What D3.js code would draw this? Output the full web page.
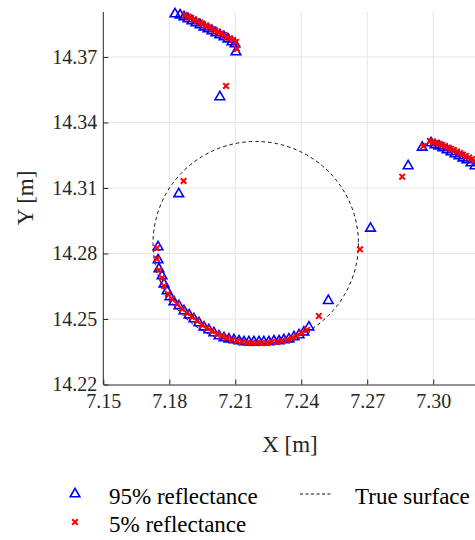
<!DOCTYPE html>
<html>
<head>
<meta charset="utf-8">
<script src="https://cdn.jsdelivr.net/npm/d3@7"></script>
<style>
  body { margin: 0; background: #fff; }
</style>
</head>
<body>
<div id="chart"></div>
<script>
// tick values
const xTicks = [7.15, 7.18, 7.21, 7.24, 7.27, 7.30];
const yTicks = [14.22, 14.25, 14.28, 14.31, 14.34, 14.37];

// 95% reflectance returns [x, y]
const refl95 = [
  [7.1826, 14.3897], [7.1849, 14.3892], [7.1867, 14.3883], [7.1885, 14.3874], [7.1903, 14.3865],
  [7.1921, 14.3856], [7.1940, 14.3847], [7.1958, 14.3837], [7.1976, 14.3828], [7.1994, 14.3819],
  [7.2012, 14.3810], [7.2030, 14.3801], [7.2049, 14.3792], [7.2067, 14.3782], [7.2085, 14.3769],
  [7.2099, 14.3760], [7.2103, 14.3723],
  [7.2030, 14.3517], [7.1843, 14.3073], [7.2715, 14.2915], [7.2523, 14.2584], [7.2886, 14.3201],
  [7.2950, 14.3286],
  [7.1749, 14.2830], [7.1749, 14.2770], [7.1753, 14.2729], [7.1767, 14.2697], [7.1776, 14.2660],
  [7.1790, 14.2628], [7.1803, 14.2601], [7.1821, 14.2578], [7.1844, 14.2560], [7.1867, 14.2537],
  [7.1890, 14.2518], [7.1912, 14.2500], [7.1935, 14.2482], [7.1958, 14.2463], [7.1980, 14.2450],
  [7.2003, 14.2436], [7.2026, 14.2422], [7.2049, 14.2413], [7.2071, 14.2408], [7.2094, 14.2404],
  [7.2117, 14.2399], [7.2140, 14.2395], [7.2162, 14.2395], [7.2185, 14.2395], [7.2208, 14.2395],
  [7.2230, 14.2395], [7.2253, 14.2395], [7.2276, 14.2399], [7.2299, 14.2399], [7.2321, 14.2404],
  [7.2344, 14.2408], [7.2367, 14.2418], [7.2390, 14.2427], [7.2412, 14.2440], [7.2435, 14.2463],
  [7.2990, 14.3306], [7.3008, 14.3297], [7.3026, 14.3292], [7.3044, 14.3283], [7.3063, 14.3274],
  [7.3081, 14.3265], [7.3099, 14.3256], [7.3117, 14.3247], [7.3135, 14.3237], [7.3153, 14.3228],
  [7.3172, 14.3215], [7.3190, 14.3201]
];

// 5% reflectance returns [x, y]
const refl5 = [
  [7.1871, 14.3892], [7.1885, 14.3885], [7.1899, 14.3879], [7.1912, 14.3872], [7.1926, 14.3865],
  [7.1940, 14.3858], [7.1953, 14.3851], [7.1967, 14.3844], [7.1981, 14.3837], [7.1994, 14.3828],
  [7.2008, 14.3821], [7.2021, 14.3815], [7.2035, 14.3808], [7.2049, 14.3801], [7.2062, 14.3792],
  [7.2076, 14.3785], [7.2090, 14.3778], [7.2103, 14.3769], [7.2108, 14.3737],
  [7.2058, 14.3567], [7.1865, 14.3132], [7.2667, 14.2819], [7.2480, 14.2514], [7.2859, 14.3152],
  [7.2955, 14.3292],
  [7.1744, 14.2825], [7.1744, 14.2775], [7.1753, 14.2724], [7.1767, 14.2688], [7.1776, 14.2651],
  [7.1794, 14.2615], [7.1812, 14.2592], [7.1835, 14.2569], [7.1858, 14.2546], [7.1880, 14.2527],
  [7.1903, 14.2509], [7.1926, 14.2491], [7.1949, 14.2473], [7.1971, 14.2459], [7.1994, 14.2445],
  [7.2017, 14.2431], [7.2040, 14.2422], [7.2062, 14.2413], [7.2085, 14.2404], [7.2108, 14.2399],
  [7.2130, 14.2395], [7.2153, 14.2390], [7.2176, 14.2390], [7.2199, 14.2390], [7.2221, 14.2390],
  [7.2244, 14.2390], [7.2267, 14.2395], [7.2290, 14.2395], [7.2312, 14.2399], [7.2335, 14.2404],
  [7.2358, 14.2413], [7.2380, 14.2422], [7.2403, 14.2436], [7.2426, 14.2450],
  [7.2985, 14.3315], [7.2999, 14.3311], [7.3012, 14.3306], [7.3026, 14.3302], [7.3040, 14.3297],
  [7.3053, 14.3292], [7.3067, 14.3285], [7.3081, 14.3279], [7.3094, 14.3274], [7.3108, 14.3267],
  [7.3122, 14.3260], [7.3135, 14.3253], [7.3149, 14.3247], [7.3163, 14.3240], [7.3176, 14.3233],
  [7.3190, 14.3226]
];

// true surface: circle centre and radius [m]
const surfaceCenter = [7.2193, 14.2846];
const surfaceRadius = [0.0467];

const width = 475, height = 540;
const plotLeft = 103.3, plotRight = 475, plotTop = 12, plotBottom = 384.5;
const serif = "'Liberation Serif', 'Times New Roman', Times, serif";

const x = d3.scaleLinear().domain([7.15, 7.319]).range([plotLeft, plotRight]);
const y = d3.scaleLinear().domain([14.22, 14.3906]).range([plotBottom, plotTop]);

const svg = d3.select("#chart").append("svg")
  .attr("width", width)
  .attr("height", height)
  .style("font-family", serif);

svg.append("defs").append("clipPath").attr("id", "clip")
  .append("rect")
  .attr("x", plotLeft).attr("y", plotTop - 6)
  .attr("width", plotRight - plotLeft).attr("height", plotBottom - plotTop + 6);

// grid
const grid = svg.append("g");
grid.selectAll(".gx").data(xTicks.slice(1)).enter().append("line")
  .attr("x1", d => x(d)).attr("x2", d => x(d))
  .attr("y1", plotTop).attr("y2", plotBottom)
  .attr("stroke", "#e6e6e6").attr("stroke-width", 1);
grid.selectAll(".gy").data(yTicks.slice(1)).enter().append("line")
  .attr("x1", plotLeft).attr("x2", plotRight)
  .attr("y1", d => y(d)).attr("y2", d => y(d))
  .attr("stroke", "#e6e6e6").attr("stroke-width", 1);

const plot = svg.append("g").attr("clip-path", "url(#clip)");

// true surface
plot.append("ellipse")
  .attr("cx", x(surfaceCenter[0]))
  .attr("cy", y(surfaceCenter[1]))
  .attr("rx", x(surfaceCenter[0] + surfaceRadius[0]) - x(surfaceCenter[0]))
  .attr("ry", y(surfaceCenter[1]) - y(surfaceCenter[1] + surfaceRadius[0]))
  .attr("fill", "none")
  .attr("stroke", "#111")
  .attr("stroke-width", 1)
  .attr("stroke-dasharray", "3.5,3");

const tri = d3.symbol().type(d3.symbolTriangle).size(40);
const cross = "M-2.8,-2.8L2.8,2.8M-2.8,2.8L2.8,-2.8";

plot.selectAll(".p95").data(refl95).enter().append("path")
  .attr("d", tri)
  .attr("transform", d => "translate(" + x(d[0]) + "," + y(d[1]) + ")")
  .attr("fill", "none")
  .attr("stroke", "#0000ff")
  .attr("stroke-width", 1.6);

plot.selectAll(".p5").data(refl5).enter().append("path")
  .attr("d", cross)
  .attr("transform", d => "translate(" + x(d[0]) + "," + y(d[1]) + ")")
  .attr("fill", "none")
  .attr("stroke", "#ff0000")
  .attr("stroke-width", 2);

// axes, ticks pointing inward like matlab
const xAxis = svg.append("g")
  .attr("transform", "translate(0," + plotBottom + ")")
  .call(d3.axisBottom(x).tickValues(xTicks).tickSizeInner(-5).tickSizeOuter(0).tickPadding(9)
    .tickFormat(d3.format(".2f")));
const yAxis = svg.append("g")
  .attr("transform", "translate(" + plotLeft + ",0)")
  .call(d3.axisLeft(y).tickValues(yTicks).tickSizeInner(-5).tickSizeOuter(0).tickPadding(6)
    .tickFormat(d3.format(".2f")));

[xAxis, yAxis].forEach(a => {
  a.attr("font-family", null).attr("font-size", null);
  a.select(".domain").attr("stroke", "#262626");
  a.selectAll(".tick line").attr("stroke", "#262626");
  a.selectAll(".tick text")
    .style("font-family", serif)
    .style("font-size", "20px")
    .attr("fill", "#262626");
});
xAxis.selectAll(".tick text").attr("dy", "0.71em");
yAxis.select(".domain").attr("d", "M0," + plotTop + "V" + plotBottom);

svg.append("text")
  .attr("x", 290).attr("y", 452)
  .attr("text-anchor", "middle")
  .style("font-size", "23px")
  .attr("fill", "#262626")
  .text("X [m]");

svg.append("text")
  .attr("transform", "translate(33,198) rotate(-90)")
  .attr("text-anchor", "middle")
  .style("font-size", "23px")
  .attr("fill", "#262626")
  .text("Y [m]");

// legend
const legend = svg.append("g").style("font-size", "23px").attr("fill", "#000");
legend.append("path").attr("d", tri)
  .attr("transform", "translate(75,494)")
  .attr("fill", "none").attr("stroke", "#0000ff").attr("stroke-width", 1.6);
legend.append("text").attr("x", 109).attr("y", 504)
  .text("95% reflectance");
legend.append("path").attr("d", cross)
  .attr("transform", "translate(75,522)")
  .attr("fill", "none").attr("stroke", "#ff0000").attr("stroke-width", 2);
legend.append("text").attr("x", 109).attr("y", 532)
  .text("5% reflectance");
legend.append("line")
  .attr("x1", 300).attr("x2", 331).attr("y1", 494).attr("y2", 494)
  .attr("stroke", "#111").attr("stroke-width", 1).attr("stroke-dasharray", "3,2.5");
legend.append("text").attr("x", 355).attr("y", 504)
  .text("True surface");
</script>
</body>
</html>
